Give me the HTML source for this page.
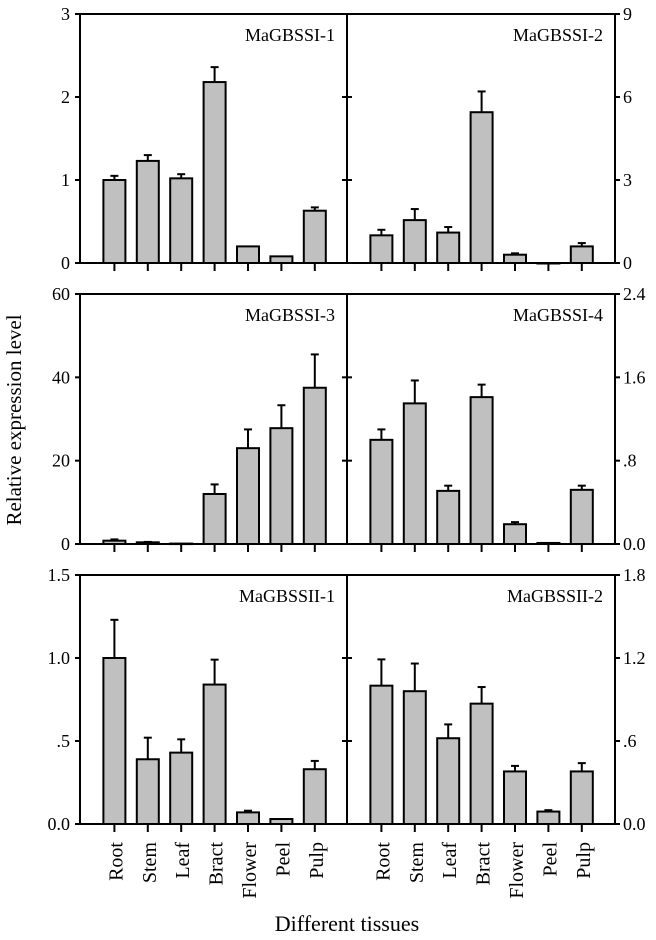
<!DOCTYPE html>
<html><head><meta charset="utf-8"><style>
body{margin:0;background:#fff;}
svg{display:block;font-family:"Liberation Serif",serif;}
</style></head><body>
<svg id="chart" width="656" height="940" viewBox="0 0 656 940" xmlns="http://www.w3.org/2000/svg"></svg>
<script>
const categories = ["Root","Stem","Leaf","Bract","Flower","Peel","Pulp"];
const gbssi1 = [1.0,1.23,1.02,2.18,0.2,0.08,0.63];
const gbssi1Err = [0.05,0.07,0.05,0.18,0,0,0.04];
const gbssi2 = [1.0,1.55,1.1,5.45,0.3,0,0.6];
const gbssi2Err = [0.2,0.4,0.2,0.75,0.05,0,0.12];
const gbssi3 = [0.8,0.4,0.1,12,23,27.8,37.5];
const gbssi3Err = [0.3,0.1,0,2.3,4.5,5.5,8];
const gbssi4 = [1.0,1.35,0.51,1.41,0.19,0.01,0.52];
const gbssi4Err = [0.1,0.22,0.05,0.12,0.02,0,0.04];
const gbssii1 = [1.0,0.39,0.43,0.84,0.07,0.03,0.33];
const gbssii1Err = [0.23,0.13,0.08,0.15,0.01,0,0.05];
const gbssii2 = [1.0,0.96,0.62,0.87,0.38,0.09,0.38];
const gbssii2Err = [0.19,0.2,0.1,0.12,0.04,0.01,0.06];
const ticks1L = ["0","1","2","3"]; const ticks1R = ["0","3","6","9"];
const ticks2L = ["0","20","40","60"]; const ticks2R = ["0.0",".8","1.6","2.4"];
const ticks3L = ["0.0",".5","1.0","1.5"]; const ticks3R = ["0.0",".6","1.2","1.8"];

const svg = document.getElementById('chart');
const NS = "http://www.w3.org/2000/svg";
function mk(tag, attrs, parent){const e=document.createElementNS(NS,tag);for(const k in attrs)e.setAttribute(k,attrs[k]);(parent||svg).appendChild(e);return e;}

const L=80, M=347, R=615, step=33.4;
const rows=[{top:14,bot:263},{top:294,bot:544},{top:575,bot:824}];
const panels=[
 {row:0,side:0,vals:gbssi1,err:gbssi1Err,max:3,ticks:ticks1L,name:"MaGBSSI-1"},
 {row:0,side:1,vals:gbssi2,err:gbssi2Err,max:9,ticks:ticks1R,name:"MaGBSSI-2"},
 {row:1,side:0,vals:gbssi3,err:gbssi3Err,max:60,ticks:ticks2L,name:"MaGBSSI-3"},
 {row:1,side:1,vals:gbssi4,err:gbssi4Err,max:2.4,ticks:ticks2R,name:"MaGBSSI-4"},
 {row:2,side:0,vals:gbssii1,err:gbssii1Err,max:1.5,ticks:ticks3L,name:"MaGBSSII-1"},
 {row:2,side:1,vals:gbssii2,err:gbssii2Err,max:1.8,ticks:ticks3R,name:"MaGBSSII-2"}
];
panels.forEach(p=>{
 const r=rows[p.row]; const x0=p.side?M:L;
 const y=v=>r.bot-(v/p.max)*(r.bot-r.top);
 const g=mk('g',{});
 
 
 p.vals.forEach((v,i)=>{
  const cx=x0+step*(i+1)+1;
  const e=p.err[i];
  if(e>0){
   const l=mk('line',{x1:cx,x2:cx,y1:y(v),y2:y(v+e),stroke:'#000','stroke-width':2},g);
   
   
   mk('line',{x1:cx-4,x2:cx+4,y1:y(v+e),y2:y(v+e),stroke:'#000','stroke-width':2},g);
  }
  const b=mk('rect',{x:cx-11,y:y(v),width:22,height:Math.max(r.bot-y(v),0.5),fill:'#c0c0c0',stroke:'#000','stroke-width':2},g);
  
  
  mk('line',{x1:cx,x2:cx,y1:r.bot,y2:r.bot+8,stroke:'#000','stroke-width':2},g);
 });
 p.ticks.forEach((t,k)=>{
  const ty=r.bot-k*(r.bot-r.top)/(p.ticks.length-1);
  if(p.side===0){
   mk('line',{x1:L-5,x2:L,y1:ty,y2:ty,stroke:'#000','stroke-width':2},g);
   if(k>0&&k<p.ticks.length-1) mk('line',{x1:M-5,x2:M,y1:ty,y2:ty,stroke:'#000','stroke-width':2},g);
   const tx=mk('text',{x:L-10,y:ty+6,'text-anchor':'end','font-size':18},g);tx.textContent=t;
   
   
  } else {
   mk('line',{x1:R,x2:R+5,y1:ty,y2:ty,stroke:'#000','stroke-width':2},g);
   if(k>0&&k<p.ticks.length-1) mk('line',{x1:M,x2:M+5,y1:ty,y2:ty,stroke:'#000','stroke-width':2},g);
   const tx=mk('text',{x:R+8,y:ty+6,'font-size':18},g);tx.textContent=t;
   
   
  }
 });
 const nm=mk('text',{x:(p.side?R:M)-12,y:r.top+27,'text-anchor':'end','font-size':18},g);nm.textContent=p.name;
 
 
});
rows.forEach(r=>{
 mk('rect',{x:L,y:r.top,width:R-L,height:r.bot-r.top,fill:'none',stroke:'#000','stroke-width':2});
 mk('line',{x1:M,x2:M,y1:r.top,y2:r.bot,stroke:'#000','stroke-width':2});
});
[L,M].forEach(x0=>{
 categories.forEach((c,i)=>{
  const cx=x0+step*(i+1)+1;
  const t=mk('text',{transform:`translate(${cx+8},842) rotate(-90)`,'text-anchor':'end','font-size':20});
  t.textContent=c;
  
  
 });
});
const yt=mk('text',{transform:'translate(21,420) rotate(-90)','text-anchor':'middle','font-size':21});
yt.textContent="Relative expression level";


const xt=mk('text',{x:347,y:931,'text-anchor':'middle','font-size':22});
xt.textContent="Different tissues";


</script>
</body></html>
